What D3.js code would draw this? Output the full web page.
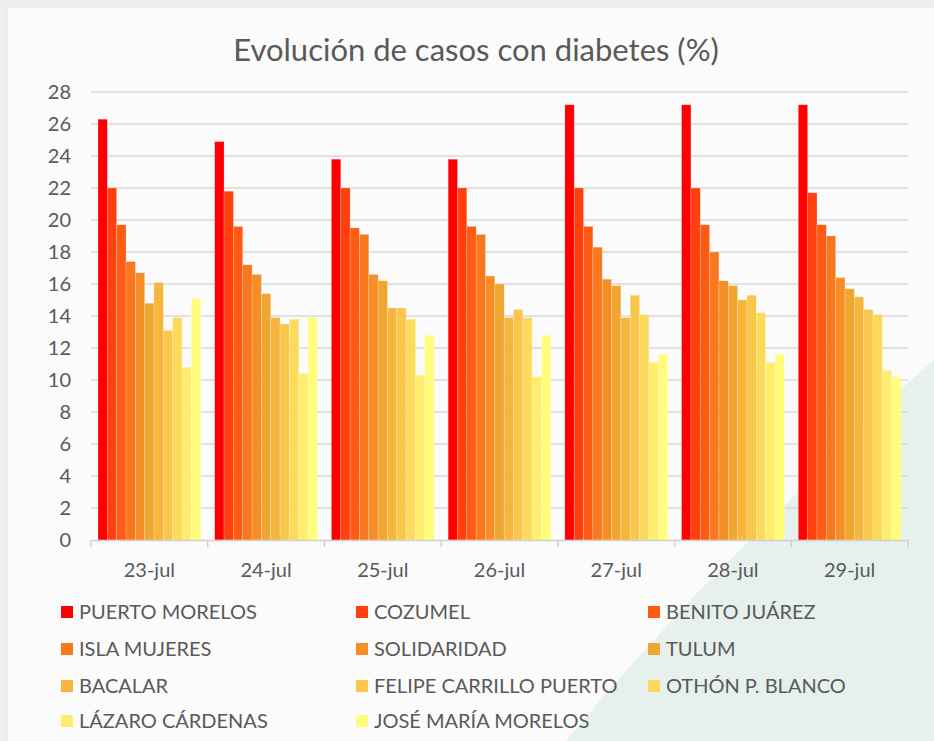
<!DOCTYPE html>
<html>
<head>
<meta charset="utf-8">
<script src="https://cdn.jsdelivr.net/npm/d3@7"></script>
<style>
  body { margin: 0; background: #eeeeee; }
  svg { display: block; }
  text { font-family: Lato, "Open Sans", sans-serif; fill: #595959; }
</style>
</head>
<body>
<script>
var dates = ["23-jul", "24-jul", "25-jul", "26-jul", "27-jul", "28-jul", "29-jul"];
var municipios = ["PUERTO MORELOS", "COZUMEL", "BENITO JUÁREZ", "ISLA MUJERES", "SOLIDARIDAD", "TULUM",
  "BACALAR", "FELIPE CARRILLO PUERTO", "OTHÓN P. BLANCO", "LÁZARO CÁRDENAS", "JOSÉ MARÍA MORELOS"];
var colores = ["#ff0000", "#ff3f0c", "#fd5a14", "#f8781f", "#f68e28", "#f0a731",
  "#f6b63e", "#f9c74c", "#fcdb5c", "#ffed6e", "#fffd7b"];

var puertoMorelos = [26.3, 24.9, 23.8, 23.8, 27.2, 27.2, 27.2];
var cozumel       = [22.0, 21.8, 22.0, 22.0, 22.0, 22.0, 21.7];
var benitoJuarez  = [19.7, 19.6, 19.5, 19.6, 19.6, 19.7, 19.7];
var islaMujeres   = [17.4, 17.2, 19.1, 19.1, 18.3, 18.0, 19.0];
var solidaridad   = [16.7, 16.6, 16.6, 16.5, 16.3, 16.2, 16.4];
var tulum         = [14.8, 15.4, 16.2, 16.0, 15.9, 15.9, 15.7];
var bacalar       = [16.1, 13.9, 14.5, 13.9, 13.9, 15.0, 15.2];
var felipeCarrillo = [13.1, 13.5, 14.5, 14.4, 15.3, 15.3, 14.4];
var othonBlanco   = [13.9, 13.8, 13.8, 13.9, 14.1, 14.2, 14.1];
var lazaroCardenas = [10.8, 10.4, 10.3, 10.2, 11.1, 11.1, 10.6];
var joseMaria     = [15.1, 13.9, 12.8, 12.8, 11.6, 11.6, 10.2];
var yTicks = [0, 2, 4, 6, 8, 10, 12, 14, 16, 18, 20, 22, 24, 26, 28];

var series = [puertoMorelos, cozumel, benitoJuarez, islaMujeres, solidaridad, tulum,
  bacalar, felipeCarrillo, othonBlanco, lazaroCardenas, joseMaria];

var w = 934, h = 741;
var margin = {top: 92, right: 26, bottom: 201, left: 91};

var svg = d3.select("body").append("svg")
  .attr("width", w)
  .attr("height", h);

// tarjeta de fondo
svg.append("rect")
  .attr("x", 7).attr("y", 7)
  .attr("width", w).attr("height", h)
  .attr("fill", "#fbfbfb")
  .attr("stroke", "#e2e2e2");

svg.append("path")
  .attr("d", "M934,360 L860,425 L790,500 L690,600 L600,700 L566,741 L934,741 Z")
  .attr("fill", "#e6f0ec");

svg.append("text")
  .attr("x", 476)
  .attr("y", 61)
  .attr("text-anchor", "middle")
  .style("font-size", "31px")
  .text("Evolución  de casos con diabetes (%)");

var xScale = d3.scaleBand()
  .domain(dates)
  .range([margin.left, w - margin.right])
  .paddingInner(0.12)
  .paddingOuter(0.06);

var x1 = d3.scaleBand()
  .domain(d3.range(municipios.length))
  .range([0, xScale.bandwidth()]);

var yScale = d3.scaleLinear()
  .domain([0, 28])
  .range([h - margin.bottom, margin.top]);

var g = svg.append("g");

// cuadricula
g.selectAll("line.grid")
  .data(yTicks.slice(1))
  .enter().append("line")
  .attr("class", "grid")
  .attr("x1", margin.left)
  .attr("x2", w - margin.right)
  .attr("y1", function(d) { return yScale(d); })
  .attr("y2", function(d) { return yScale(d); })
  .attr("stroke", "#d9d9d9")
  .attr("stroke-width", 1.5);

var yAxis = d3.axisLeft(yScale).tickValues(yTicks).tickSize(0).tickPadding(20);
var yG = g.append("g")
  .attr("transform", "translate(" + margin.left + ",0)")
  .call(yAxis);
yG.select(".domain").remove();
yG.selectAll("text").style("font-size", "20px").attr("fill", "#595959");

series.forEach(function(vals, i) {
  g.append("g")
    .selectAll("rect")
    .data(vals)
    .enter().append("rect")
    .attr("x", function(d, j) { return xScale(dates[j]) + x1(i); })
    .attr("y", function(d) { return yScale(d); })
    .attr("width", x1.bandwidth())
    .attr("height", function(d) { return yScale(0) - yScale(d); })
    .attr("fill", colores[i])
    .attr("stroke", "#ffffff")
    .attr("stroke-opacity", 0.35)
    .attr("stroke-width", 0.6);
});

var xAxis = d3.axisBottom(xScale).tickSize(0).tickPadding(23);
var xG = g.append("g")
  .attr("transform", "translate(0," + yScale(0) + ")")
  .call(xAxis);
xG.select(".domain").attr("stroke", "#d0d0d0").attr("stroke-width", 1.5);
xG.selectAll("text").style("font-size", "20px").attr("fill", "#595959");

// separadores entre fechas
var step = xScale.step();
var bounds = dates.map(function(d) { return xScale(d) - xScale.paddingInner() * step / 2; });
bounds.push(w - margin.right);
xG.selectAll("line.sep")
  .data(bounds)
  .enter().append("line")
  .attr("class", "sep")
  .attr("x1", function(d) { return d; })
  .attr("x2", function(d) { return d; })
  .attr("y1", 0).attr("y2", 7)
  .attr("stroke", "#d0d0d0")
  .attr("stroke-width", 1.5);

// leyenda
var legX = [61, 356, 648];
var legY = [612, 649, 686, 721];
var leg = svg.selectAll("g.leg")
  .data(municipios)
  .enter().append("g")
  .attr("class", "leg")
  .attr("transform", function(d, i) {
    return "translate(" + legX[i % 3] + "," + legY[Math.floor(i / 3)] + ")";
  });
leg.append("rect")
  .attr("x", 0).attr("y", -6)
  .attr("width", 12).attr("height", 12)
  .attr("fill", function(d, i) { return colores[i]; });
leg.append("text")
  .attr("x", 18)
  .attr("dy", "0.36em")
  .style("font-size", "20px")
  .text(function(d) { return d; });
</script>
</body>
</html>
